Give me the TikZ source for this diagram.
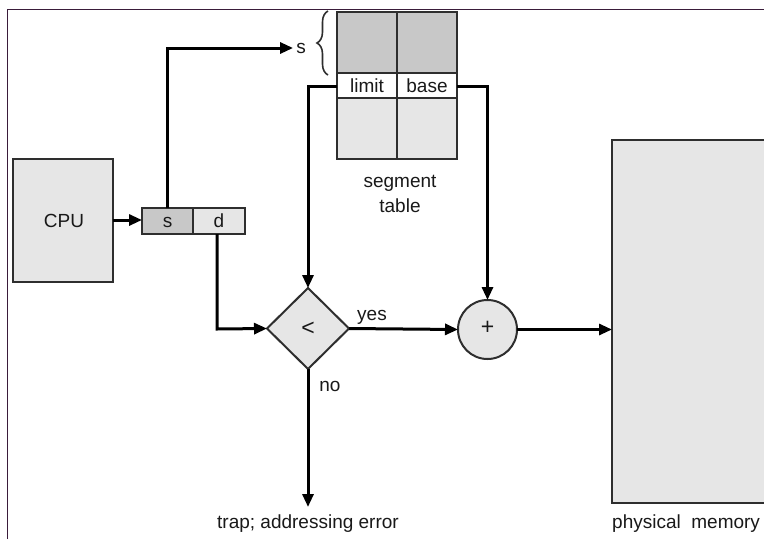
\documentclass[tikz,border=0pt]{standalone}
\usepackage{fontspec}
\setmainfont{Liberation Sans}
\usetikzlibrary{arrows.meta,shapes.geometric,decorations.pathreplacing}
\definecolor{lightfill}{HTML}{E6E6E6}
\definecolor{darkfill}{HTML}{C8C8C8}
\definecolor{edge}{HTML}{2E2E2E}
\definecolor{framecol}{HTML}{3A1C3A}
\begin{document}
\begin{tikzpicture}[x=1pt,y=-1pt,
  every node/.style={font=\fontsize{19}{22}\selectfont, text=black!90},
  cell/.style={draw=edge, line width=2pt, inner sep=0pt, outer sep=0pt, anchor=north west},
  lbl/.style={inner sep=0pt, anchor=base},
  sym/.style={font=\fontsize{23}{26}\selectfont},
  conn/.style={draw=black, line width=3pt},
  arr/.style={conn, -{Triangle[length=13pt,width=11pt]}}
]
\useasboundingbox (0,0) rectangle (764,539);
\fill[white] (0,0) rectangle (764,539);
\begin{scope}
\clip (0,0) rectangle (764,539);
% frame
\draw[framecol, line width=1.6pt] (7.5,539) -- (7.5,9.5) -- (764,9.5);
% CPU
\node[cell, fill=lightfill, minimum width=100pt, minimum height=123pt] (cpu) at (13,159) {};
\node[lbl] (cputxt) at (64,227) {CPU};
% s d register
\node[cell, fill=darkfill, minimum width=51pt, minimum height=26pt] (sc) at (142,208) {};
\node[cell, fill=lightfill, minimum width=52pt, minimum height=26pt] (dc) at (193,208) {};
\node[lbl] (stxt) at (167.5,227) {s};
\node[lbl] (dtxt) at (219,227) {d};
% segment table
\node[cell, fill=darkfill, minimum width=60pt, minimum height=61pt] (t11) at (337,12) {};
\node[cell, fill=darkfill, minimum width=60pt, minimum height=61pt] (t12) at (397,12) {};
\node[cell, fill=white, minimum width=60pt, minimum height=25pt] (lim) at (337,73) {};
\node[cell, fill=white, minimum width=60pt, minimum height=25pt] (bas) at (397,73) {};
\node[cell, fill=lightfill, minimum width=60pt, minimum height=61pt] (t31) at (337,98) {};
\node[cell, fill=lightfill, minimum width=60pt, minimum height=61pt] (t32) at (397,98) {};
\node[lbl] (limtxt) at (367,92) {limit};
\node[lbl] (bastxt) at (427,92) {base};
\node[lbl] (seg1) at (400,187) {segment};
\node[lbl] (seg2) at (400,212) {table};
% brace and s
\draw[edge, line width=1.6pt, decoration={brace, amplitude=11pt}, decorate] (328,75) -- (328,11);
\node[lbl] (slab) at (301,53) {s};
% comparator
\node[diamond, draw=edge, line width=2pt, fill=lightfill, minimum width=82pt, minimum height=81pt, inner sep=0pt, outer sep=0pt] (cmp) at (308,328.5) {};
\node[sym] (lt) at (308,328.5) {<};
% adder
\node[circle, draw=edge, line width=2pt, fill=lightfill, minimum size=59pt, inner sep=0pt, outer sep=0pt] (add) at (487.5,329.5) {};
\node[sym] (plus) at (487.5,328) {+};
% memory
\node[cell, fill=lightfill, minimum width=160pt, minimum height=363pt] (mem) at (612,140) {};
\coordinate (trap) at (308,507);
% connectors
\draw[arr] (cpu.east |- 0,220) -- (sc.west |- 0,220);
\draw[arr, shorten >=3pt] (sc.north) -- (sc.north |- 0,48) -- (slab.west |- 0,48);
\draw[arr] (dc.south -| 217,0) -- (217,329) -- (cmp.west);
\draw[arr] (lim.west |- 0,86) -- (cmp.north |- 0,86) -- (cmp.north);
\draw[arr] (bas.east |- 0,86) -- (add.north |- 0,86) -- (add.north);
\draw[arr] (cmp.east) -- (add.west);
\draw[arr] (add.east) -- (mem.west |- 0,329.5);
\draw[arr] (cmp.south) -- (trap);
\node[lbl] (yes) at (372,320) {yes};
\node[lbl] (no) at (330,391) {no};
\node[lbl] (traptxt) at (308,528) {trap; addressing error};
\node[lbl, anchor=base west] (memtxt) at (612,528) {physical\ \ memory};
\end{scope}
\end{tikzpicture}
\end{document}
